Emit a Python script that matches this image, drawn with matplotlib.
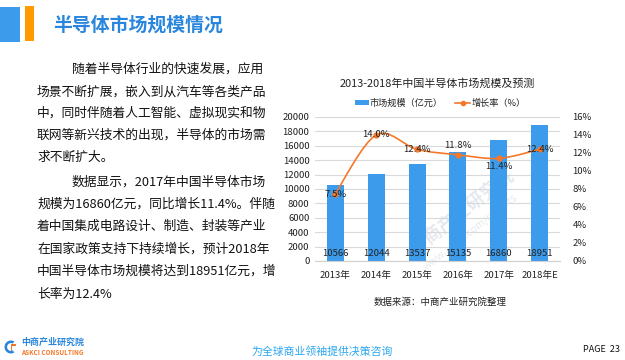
import matplotlib
matplotlib.use("Agg")
import matplotlib.pyplot as plt
from matplotlib.patches import Rectangle, Wedge, PathPatch
from matplotlib.path import Path
import numpy as np

plt.rcParams['font.family'] = ['Noto Sans CJK SC', 'DejaVu Sans']

# ---- data ----
years = ['2013年', '2014年', '2015年', '2016年', '2017年', '2018年E']
market_size = [10566, 12044, 13537, 15135, 16860, 18951]
growth_rate = [7.5, 14.0, 12.4, 11.8, 11.4, 12.4]
growth_labels = ['7.5%', '14.0%', '12.4%', '11.8%', '11.4%', '12.4%']
left_ticks = [0, 2000, 4000, 6000, 8000, 10000, 12000, 14000, 16000, 18000, 20000]
right_ticks = [0, 2, 4, 6, 8, 10, 12, 14, 16]

chart_title = '2013-2018年中国半导体市场规模及预测'
legend_bar = '市场规模（亿元）'
legend_line = '增长率（%）'
source_text = '数据来源：中商产业研究院整理'
slide_title = '半导体市场规模情况'
para_lines = [
    '随着半导体行业的快速发展，应用',
    '场景不断扩展，嵌入到从汽车等各类产品',
    '中，同时伴随着人工智能、虚拟现实和物',
    '联网等新兴技术的出现，半导体的市场需',
    '求不断扩大。',
    '数据显示，2017年中国半导体市场',
    '规模为16860亿元，同比增长11.4%。伴随',
    '着中国集成电路设计、制造、封装等产业',
    '在国家政策支持下持续增长，预计2018年',
    '中国半导体市场规模将达到18951亿元，增',
    '长率为12.4%',
]

W, H = 625, 360
BLUE = '#3d9bec'
ORANGE = '#f5782a'
FS = 6.9

fig = plt.figure(figsize=(W / 100, H / 100), dpi=100)
fig.patch.set_facecolor('white')

# overlay axes in pixel coordinates
ov = fig.add_axes([0, 0, 1, 1])
ov.set_xlim(0, W)
ov.set_ylim(H, 0)
ov.axis('off')

# slide title decorations
ov.add_patch(Rectangle((0, 7), 20, 35, color='#3d9bec', lw=0))
ov.add_patch(Rectangle((25, 6), 9, 35, color='#ff9a00', lw=0))
ov.text(53, 25, slide_title, fontsize=13.6, fontweight='bold', color='#2a86dc',
        va='center', ha='left')

# paragraph text
ys = [69, 92, 113, 135, 157, 182, 204, 226, 249, 271, 294]
for i, (line, y) in enumerate(zip(para_lines, ys)):
    x = 72 if i in (0, 5) else 37
    ov.text(x, y, line, fontsize=9.2, color='#111111', va='center', ha='left')

# footer
ov.add_patch(Wedge((11, 347), 6.5, 60, 300, width=2.6, color='#2a86dc', lw=0))
ov.add_patch(Rectangle((10.5, 344), 1.8, 7, color='#f5782a', lw=0))
ov.add_patch(Rectangle((10.5, 344), 5, 1.8, color='#f5782a', lw=0))
ov.text(21, 342.5, '中商产业研究院', fontsize=6.5, fontweight='bold', color='#2a86dc',
        va='center', ha='left')
ov.text(21, 352.5, 'ASKCI CONSULTING', fontsize=4.6, fontweight='bold', color='#f5782a',
        va='center', ha='left')
ov.text(322, 351, '为全球商业领袖提供决策咨询', fontsize=7.8, color='#2aa6f0',
        style='italic', va='center', ha='center')
ov.text(583, 350, 'PAGE  23', fontsize=6.5, color='#111111', va='center', ha='left')

# chart title / legend / source
ov.text(437, 83, chart_title, fontsize=7.9, color='#222222', va='center', ha='center')
ov.add_patch(Rectangle((355, 100), 14, 5, color=BLUE, lw=0))
ov.text(370, 103, legend_bar, fontsize=6.6, color='#222222', va='center', ha='left')
ov.plot([455, 470], [103, 103], color=ORANGE, lw=1.2)
ov.plot([462.5], [103], marker='o', ms=3, color=ORANGE)
ov.text(472, 103, legend_line, fontsize=6.6, color='#222222', va='center', ha='left')
ov.text(440, 302, source_text, fontsize=6.8, color='#222222', va='center', ha='center')

# watermark
ov.text(462, 212, '中商产业研究院', fontsize=13, color='#cfd8e3', alpha=0.55,
        rotation=38, va='center', ha='center', fontweight='bold', zorder=20)
ov.text(470, 232, 'www.askci.com/reports', fontsize=7.5, color='#cfd8e3', alpha=0.55,
        rotation=38, va='center', ha='center', zorder=20)

# ---- chart ----
ax = fig.add_axes([315 / W, (H - 261) / H, 245 / W, 144 / H])
ax.patch.set_alpha(0)
x = np.arange(len(years))
ax.bar(x, market_size, width=0.42, color=BLUE, zorder=2)
ax.set_xlim(-0.5, len(years) - 0.5)
ax.set_ylim(0, 20000)
ax.set_yticks(left_ticks)
ax.set_yticklabels([str(t) for t in left_ticks])
ax.set_xticks(x)
ax.set_xticklabels(years)
ax.grid(axis='y', color='#d9d9d9', lw=0.8, zorder=0)
for s in ['top', 'right', 'left']:
    ax.spines[s].set_visible(False)
ax.spines['bottom'].set_color('#d0d0d0')
ax.tick_params(axis='both', length=0, labelsize=FS, colors='#222222')
ax.tick_params(axis='x', pad=7)
ax.tick_params(axis='y', pad=4)
for xi, v in zip(x, market_size):
    ax.text(xi, 1100, str(v), fontsize=FS, ha='center', va='center', color='#222222', zorder=5)

ax2 = ax.twinx()
ax2.set_ylim(0, 16)
ax2.set_yticks(right_ticks)
ax2.set_yticklabels([f'{t}%' for t in right_ticks])
ax2.tick_params(axis='y', length=0, labelsize=FS, colors='#222222', pad=9)
for s in ['top', 'right', 'left', 'bottom']:
    ax2.spines[s].set_visible(False)

# smooth (Catmull-Rom → Bezier) curve through the points
px = list(x.astype(float))
py = list(growth_rate)
verts = [(px[0], py[0])]
codes = [Path.MOVETO]
n = len(px)
for i in range(n - 1):
    p0 = (px[max(i - 1, 0)], py[max(i - 1, 0)])
    p1 = (px[i], py[i])
    p2 = (px[i + 1], py[i + 1])
    p3 = (px[min(i + 2, n - 1)], py[min(i + 2, n - 1)])
    t = 1 / 6
    c1 = (p1[0] + (p2[0] - p0[0]) * t, p1[1] + (p2[1] - p0[1]) * t)
    c2 = (p2[0] - (p3[0] - p1[0]) * t, p2[1] - (p3[1] - p1[1]) * t)
    verts += [c1, c2, p2]
    codes += [Path.CURVE4] * 3
ax2.add_patch(PathPatch(Path(verts, codes), facecolor='none', edgecolor=ORANGE, lw=1.2, zorder=3))
ax2.plot(x, growth_rate, 'o', color=ORANGE, ms=3.5, zorder=4)

offsets = [-0.1, 0, 0, 1.0, -0.9, 0]
for xi, v, lab, off in zip(x, growth_rate, growth_labels, offsets):
    ax2.text(xi, v + off, lab, fontsize=FS, ha='center', va='center', color='#222222', zorder=6)

fig.savefig('out.png', dpi=100, facecolor='white')
